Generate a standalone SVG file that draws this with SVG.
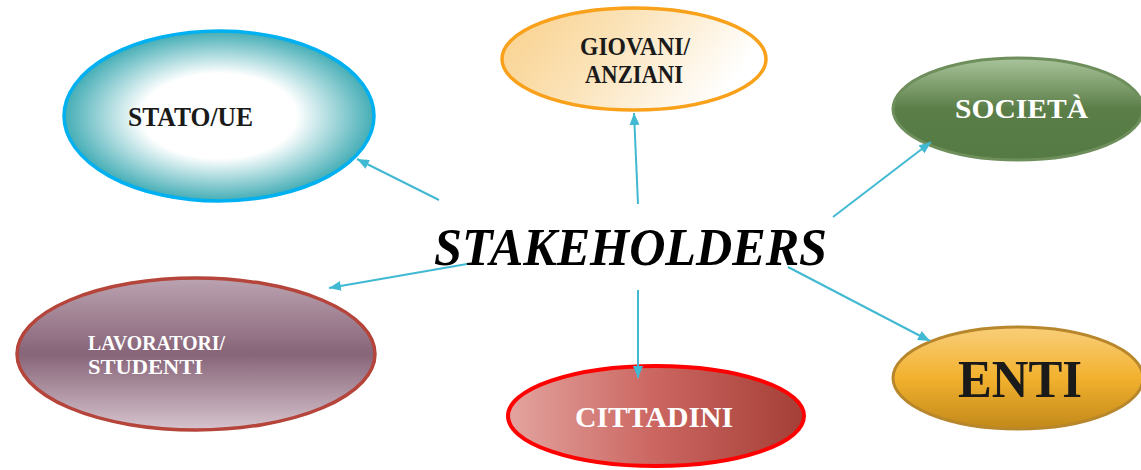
<svg xmlns="http://www.w3.org/2000/svg" width="1141" height="470" viewBox="0 0 1141 470">
<style>
.lbl{font-family:"Liberation Serif","DejaVu Serif",serif;font-weight:bold;}
.dark{fill:#1a1a1a;}
.light{fill:#ffffff;}
.conn{stroke:#41B9D3;stroke-width:2;fill:none;}
</style>
<defs>
<radialGradient id="gStato" cx="0.5" cy="0.5" r="0.5">
<stop offset="0" stop-color="#ffffff"/>
<stop offset="0.5" stop-color="#ffffff"/>
<stop offset="1" stop-color="#43ADB5"/>
</radialGradient>
<linearGradient id="gGiov" x1="0" y1="0" x2="1" y2="0.3">
<stop offset="0" stop-color="#F9D08A"/>
<stop offset="0.45" stop-color="#FBE2B6"/>
<stop offset="1" stop-color="#ffffff"/>
</linearGradient>
<linearGradient id="gSoc" x1="0" y1="0" x2="0" y2="1">
<stop offset="0" stop-color="#A9C49B"/>
<stop offset="0.5" stop-color="#5B7E48"/>
<stop offset="1" stop-color="#557A43"/>
</linearGradient>
<linearGradient id="gLav" x1="0" y1="0" x2="0" y2="1">
<stop offset="0" stop-color="#BBA3B1"/>
<stop offset="0.5" stop-color="#876478"/>
<stop offset="1" stop-color="#D6C4CE"/>
</linearGradient>
<linearGradient id="gCit" x1="0" y1="0" x2="1" y2="0">
<stop offset="0" stop-color="#E3A49F"/>
<stop offset="0.5" stop-color="#CB6560"/>
<stop offset="1" stop-color="#A43F37"/>
</linearGradient>
<linearGradient id="gEnti" x1="0" y1="0" x2="0" y2="1">
<stop offset="0" stop-color="#F9CF7A"/>
<stop offset="0.5" stop-color="#F2B12E"/>
<stop offset="1" stop-color="#C2891A"/>
</linearGradient>
<marker id="arr" viewBox="0 0 12 10" refX="12" refY="5" markerWidth="12" markerHeight="10" markerUnits="userSpaceOnUse" orient="auto">
<path d="M0,0 L12,5 L0,10 Z" fill="#41B9D3"/>
</marker>
</defs>
<rect width="1141" height="470" fill="#ffffff"/>

<g id="node-stato">
<ellipse cx="219" cy="116" rx="155" ry="85" fill="url(#gStato)" stroke="#00B0F0" stroke-width="3.5"/>
<text class="lbl dark" x="128" y="126" font-size="27" textLength="125" lengthAdjust="spacingAndGlyphs">STATO/UE</text>
</g>

<g id="node-giovani">
<ellipse cx="634" cy="59" rx="132" ry="51" fill="url(#gGiov)" stroke="#F9A11B" stroke-width="3.5"/>
<text class="lbl dark" x="580" y="55" font-size="26" textLength="110" lengthAdjust="spacingAndGlyphs">GIOVANI/</text>
<text class="lbl dark" x="585" y="83" font-size="26" textLength="98" lengthAdjust="spacingAndGlyphs">ANZIANI</text>
</g>

<g id="node-societa">
<ellipse cx="1018" cy="109" rx="125" ry="51" fill="url(#gSoc)" stroke="#6E8F5C" stroke-width="3"/>
<text class="lbl light" x="955" y="118" font-size="28" textLength="133" lengthAdjust="spacingAndGlyphs">SOCIETÀ</text>
</g>

<g id="node-lavoratori">
<ellipse cx="196" cy="354" rx="179" ry="76" fill="url(#gLav)" stroke="#B5443A" stroke-width="3.5"/>
<text class="lbl light" x="88" y="350" font-size="22" textLength="137" lengthAdjust="spacingAndGlyphs">LAVORATORI/</text>
<text class="lbl light" x="88" y="374" font-size="22" textLength="115" lengthAdjust="spacingAndGlyphs">STUDENTI</text>
</g>

<g id="node-cittadini">
<ellipse cx="656" cy="416" rx="148" ry="50" fill="url(#gCit)" stroke="#FF0000" stroke-width="4"/>
<text class="lbl light" x="575" y="427" font-size="29" textLength="158" lengthAdjust="spacingAndGlyphs">CITTADINI</text>
</g>

<g id="node-enti">
<ellipse cx="1018" cy="378" rx="125" ry="51" fill="url(#gEnti)" stroke="#B8862B" stroke-width="3"/>
<text class="lbl dark" x="958" y="397" font-size="52" textLength="124" lengthAdjust="spacingAndGlyphs">ENTI</text>
</g>

<g id="node-stakeholders">
<text x="434" y="265" font-family="Liberation Serif, DejaVu Serif, serif" font-weight="bold" font-style="italic" font-size="52" fill="#000000" textLength="393" lengthAdjust="spacingAndGlyphs">STAKEHOLDERS</text>
</g>

<g id="connectors">
<line class="conn" x1="439" y1="200" x2="357" y2="159" marker-end="url(#arr)"/>
<line class="conn" x1="638" y1="204" x2="634" y2="113" marker-end="url(#arr)"/>
<line class="conn" x1="833" y1="217" x2="931" y2="142" marker-end="url(#arr)"/>
<line class="conn" x1="467" y1="264" x2="329" y2="288" marker-end="url(#arr)"/>
<line class="conn" x1="638" y1="290" x2="638" y2="378" marker-end="url(#arr)"/>
<line class="conn" x1="788" y1="267" x2="930" y2="341" marker-end="url(#arr)"/>
</g>
</svg>
